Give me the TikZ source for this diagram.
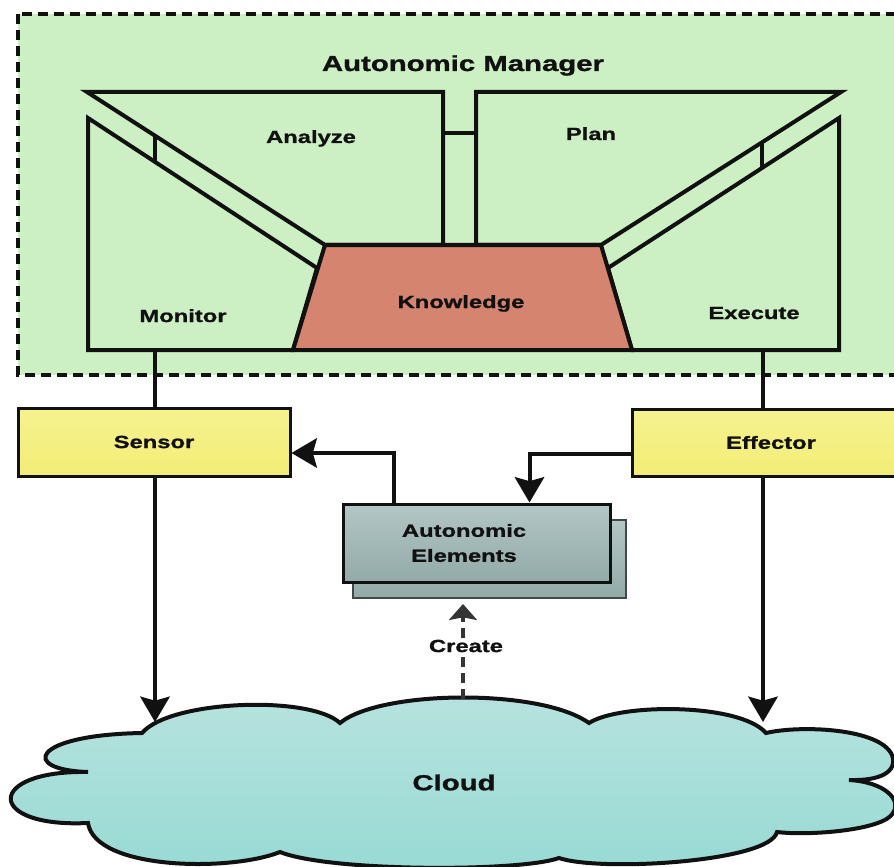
\documentclass[tikz,border=0pt]{standalone}
\usepackage{fontspec}
\setmainfont{Liberation Sans}[FakeStretch=1.35, FakeBold=1.2]
\usetikzlibrary{arrows.meta,calc}

\definecolor{mgrgreen}{HTML}{CDEFC4}
\definecolor{knowfill}{HTML}{D4846F}
\definecolor{yeltop}{HTML}{F5F290}
\definecolor{yelbot}{HTML}{F3ED76}
\definecolor{elemtop}{HTML}{B3C7C5}
\definecolor{elembot}{HTML}{92AAA8}
\definecolor{shadowgray}{HTML}{3E4A49}
\definecolor{cloudtop}{HTML}{B8E3DF}
\definecolor{cloudbot}{HTML}{98DAD4}
\definecolor{inkblack}{HTML}{111111}

\begin{document}
\begin{tikzpicture}[x=0.75pt, y=-0.75pt,
  part/.style={draw=inkblack, line width=3pt, fill=mgrgreen, line join=miter},
  wire/.style={draw=inkblack, line width=3pt},
  dline/.style={draw=inkblack!85, line width=2.5pt, dash pattern=on 7.5pt off 4.5pt},
  lbl/.style={font=\bfseries\fontsize{13.2}{18.75}\selectfont, text=inkblack, inner sep=0pt},
  big/.style={font=\bfseries\fontsize{16.3}{19}\selectfont, text=inkblack, inner sep=0pt},
  iobox/.style={draw=inkblack, line width=2.25pt, top color=yeltop, bottom color=yelbot,
    font=\bfseries\fontsize{13.2}{16}\selectfont, text=inkblack, inner sep=0pt},
  >={Stealth[length=19pt,width=22pt,inset=3pt]}
]
\clip (0,0) rectangle (894,867);
\fill[white] (0,0) rectangle (894,867);

% managed area of the autonomic manager
\draw[fill=mgrgreen, draw=inkblack, line width=3pt, dash pattern=on 7.5pt off 4.5pt]
  (18,14) rectangle (920,375);
\node[big, anchor=base] (amtitle) at (463,71) {Autonomic Manager};

% MAPE-K parts
\draw[part] (87,92) -- (443,92) -- (443,245) -- (325,245) -- cycle;   % analyze
\draw[part] (476,92) -- (841,92) -- (601,245) -- (476,245) -- cycle;  % plan
\draw[part] (88,118) -- (317,268) -- (293,350) -- (88,350) -- cycle;  % monitor
\draw[part] (839,118) -- (608,268) -- (632,350) -- (839,350) -- cycle;% execute
\draw[part, fill=knowfill] (325,245) -- (601,245) -- (632,350) -- (293,350) -- cycle; % knowledge

% short links between the parts
\draw[wire] (155,136) -- (155,162);
\draw[wire] (762,142) -- (762,167);
\draw[wire] (443,133) -- (476,133);

\node[lbl, anchor=base] (analyze) at (311,143) {Analyze};
\node[lbl, anchor=base] (plan) at (591,140) {Plan};
\node[lbl, anchor=base] (monitor) at (183,322) {Monitor};
\node[lbl, anchor=base] (execute) at (754,319) {Execute};
\node[lbl, anchor=base] (knowledge) at (461,308) {Knowledge};

\coordinate (monbot) at (155,350);
\coordinate (exebot) at (763,350);

% touch points
\node[iobox, minimum width=204pt, minimum height=51pt] (sensor) at (154,442) {Sensor};
\node[iobox, minimum width=208.5pt, minimum height=50.25pt] (effector) at (771,442.5) {Effector};

% managed elements (stacked boxes)
\node[draw=shadowgray, line width=1.5pt, top color=elemtop, bottom color=elembot,
  minimum width=204.75pt, minimum height=58.5pt, inner sep=0pt] (aeshadow) at (489.5,559) {};
\node[draw=inkblack, line width=2.25pt, top color=elemtop, bottom color=elembot,
  minimum width=200.25pt, minimum height=58.5pt, inner sep=0pt] (aefront) at (476.5,543) {};
\node[lbl, align=center] (aetext) at (464,543) {Autonomic\\Elements};

% cloud
\path[draw=inkblack, line width=3pt, top color=cloudtop, bottom color=cloudbot]
  (142,733) .. controls (170,700) and (310,695) .. (340,723)
  .. controls (380,690) and (540,688) .. (589,723)
  .. controls (620,703) and (740,703) .. (766,733)
  .. controls (800,725) and (880,728) .. (892,755)
  .. controls (898,772) and (880,781) .. (849,780)
  .. controls (885,782) and (902,800) .. (893,813)
  .. controls (884,830) and (810,836) .. (777,832)
  .. controls (770,862) and (600,872) .. (559,858)
  .. controls (520,872) and (330,872) .. (280,852)
  .. controls (230,872) and (95,870) .. (88,823)
  .. controls (-15,828) and (-15,770) .. (88,772)
  .. controls (20,770) and (30,735) .. (142,733) -- cycle;
\node[big] (cloudlbl) at (454,782.5) {Cloud};

\coordinate (cloudL) at (155,722);
\coordinate (cloudR) at (763,722);
\coordinate (cloudC) at (463,699);

% connectors
\draw[wire] (monbot) -- (monbot |- sensor.north);
\draw[wire, ->] (monbot |- sensor.south) -- (cloudL);
\draw[wire] (exebot) -- (exebot |- effector.north);
\draw[wire, ->] (exebot |- effector.south) -- (cloudR);
\draw[wire, ->] ([xshift=39pt]aefront.north west) |- ([yshift=-8.25pt]sensor.east);
\draw[wire, ->] ([yshift=-8.25pt]effector.west) -| ([xshift=141pt]aefront.north west);

\node[lbl, fill=white, inner sep=1pt] (create) at (466,646) {Create};
\draw[dline] (cloudC) -- (cloudC |- create.south);
\draw[dline, -{Stealth[length=12pt,width=21pt,inset=2pt]}]
  (cloudC |- create.north) -- ([yshift=-3.75pt]cloudC |- aeshadow.south);
\end{tikzpicture}
\end{document}
